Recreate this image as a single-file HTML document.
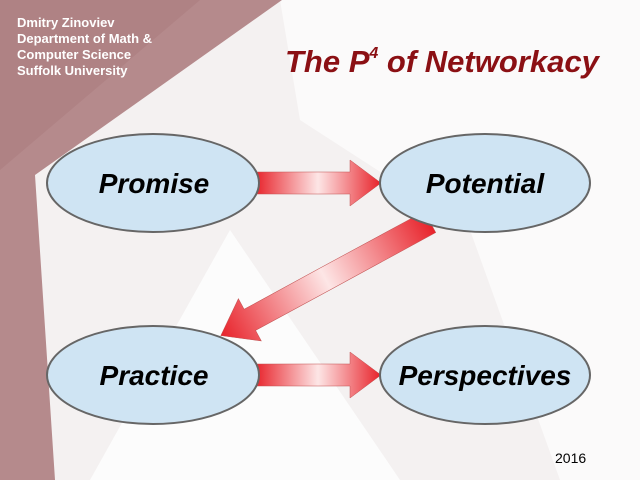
<!DOCTYPE html>
<html><head><style>
body{margin:0;width:640px;height:480px;overflow:hidden;background:#fff;font-family:"Liberation Sans",sans-serif}
</style></head><body>
<svg width="640" height="480" viewBox="0 0 640 480" xmlns="http://www.w3.org/2000/svg">
<defs>
<linearGradient id="gh" x1="0" x2="1" y1="0" y2="0">
<stop offset="0" stop-color="#e8222a"/><stop offset="0.5" stop-color="#fde6e6"/><stop offset="1" stop-color="#e8222a"/></linearGradient>
</defs>
<rect width="640" height="480" fill="#f4f1f1"/>
<polygon points="280,0 640,0 640,480 560,480 470,230 300,120" fill="#fbfafa"/>
<polygon points="230,230 90,480 400,480" fill="#fcfcfc"/>
<polygon points="0,0 282,0 35,175 55,480 0,480" fill="#b58a8c"/>
<polygon points="0,0 200,0 0,170" fill="#a97a7c" opacity="0.5"/>
<g fill="#fff" font-weight="bold" font-size="13">
<text x="17" y="27">Dmitry Zinoviev</text>
<text x="17" y="43">Department of Math &amp;</text>
<text x="17" y="59">Computer Science</text>
<text x="17" y="75">Suffolk University</text>
</g>
<text x="285" y="72" font-size="31" font-weight="bold" font-style="italic" fill="#8b1014">The P<tspan font-size="16" dy="-14">4</tspan><tspan dy="14"> of Networkacy</tspan></text>
<g stroke="#c05050" stroke-width="0.5">
<path d="M255,172 H350 V160 L381,183 L350,206 V194 H255 Z" fill="url(#gh)"/>
<path d="M255,364 H350 V352 L381,375 L350,398 V386 H255 Z" fill="url(#gh)"/>
<g transform="translate(430,222) rotate(151.5)">
<path d="M0,-12 H205 V-24 L238,0 L205,24 V12 H0 Z" fill="url(#gh)"/>
</g>
</g>
<g fill="#cfe4f3" stroke="#666" stroke-width="2">
<ellipse cx="153" cy="183" rx="106" ry="49"/>
<ellipse cx="485" cy="183" rx="105" ry="49"/>
<ellipse cx="153" cy="375" rx="106" ry="49"/>
<ellipse cx="485" cy="375" rx="105" ry="49"/>
</g>
<g font-size="28" font-weight="bold" font-style="italic" text-anchor="middle" fill="#000">
<text x="154" y="193">Promise</text>
<text x="485" y="193">Potential</text>
<text x="154" y="385">Practice</text>
<text x="485" y="385">Perspectives</text>
</g>
<text x="555" y="463" font-size="14" fill="#000">2016</text>
</svg>
</body></html>
